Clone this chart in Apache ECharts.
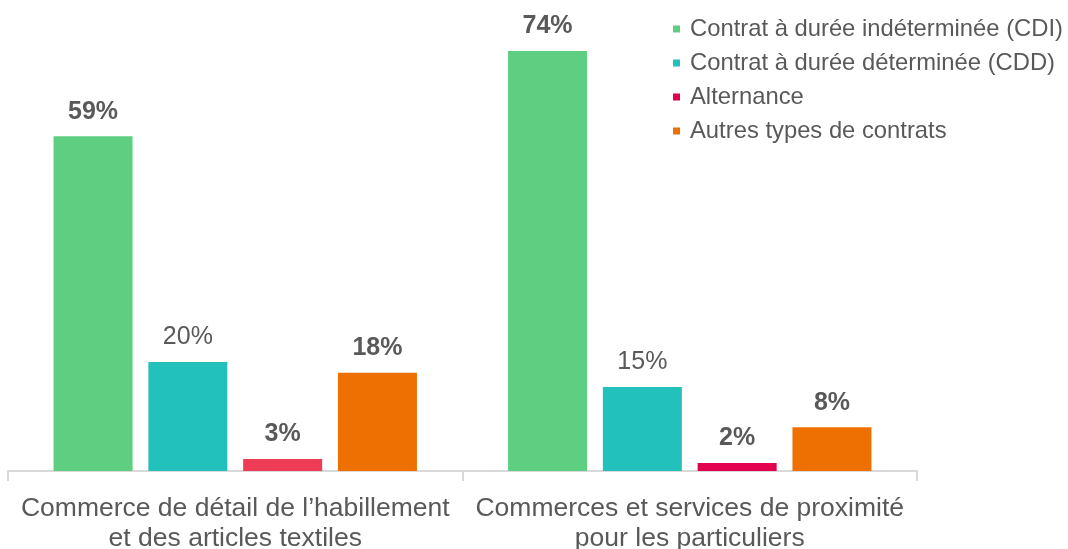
<!DOCTYPE html>
<html>
<head>
<meta charset="utf-8">
<script src="https://cdn.jsdelivr.net/npm/echarts@6/dist/echarts.min.js"></script>
<style>
  html, body { margin: 0; padding: 0; background: #fff; }
  #chart { width: 1068px; height: 549px; }
</style>
</head>
<body>
<div id="chart"></div>
<script>
const categories = [
  'Commerce de détail de l\u2019habillement\net des articles textiles',
  'Commerces et services de proximité\npour les particuliers'
];
const seriesNames = [
  'Contrat à durée indéterminée (CDI)',
  'Contrat à durée déterminée (CDD)',
  'Alternance',
  'Autres types de contrats'
];
// bar heights
const cdi = [59, 74];
const cdd = [19.2, 14.8];
const alternance = [2.1, 1.4];
const autres = [17.3, 7.7];
// printed labels
const cdiLabels = ['59%', '74%'];
const cddLabels = ['20%', '15%'];
const alternanceLabels = ['3%', '2%'];
const autresLabels = ['18%', '8%'];
const colors = ['#5ecf80', '#22c1bb', '#e2004f', '#ed7000'];

const chart = echarts.init(document.getElementById('chart'));
const textColor = '#595959';
const font = 'Liberation Sans, Arial, sans-serif';

function makeSeries(name, values, labels, color, bold) {
  return {
    name: name,
    type: 'bar',
    data: values,
    barWidth: 79,
    barGap: '20%',
    itemStyle: { color: color },
    label: {
      show: true,
      position: 'top',
      distance: 12,
      color: textColor,
      fontFamily: font,
      fontSize: 25,
      fontWeight: bold ? 'bold' : 'normal',
      formatter: p => labels[p.dataIndex]
    }
  };
}

const altData = alternance.map((v, i) => i === 0 ? { value: v, itemStyle: { color: '#ee3b56' } } : v);

const option = {
  animation: false,
  grid: { left: 8, right: 151, top: 51, bottom: 78, outerBoundsMode: 'none' },
  legend: {
    orient: 'vertical',
    left: 668,
    top: 12,
    itemWidth: 7,
    itemHeight: 7,
    itemGap: 10,
    icon: 'rect',
    textStyle: { color: textColor, fontFamily: font, fontSize: 23.8, padding: [0, 0, 0, 5] },
    data: seriesNames
  },
  xAxis: {
    type: 'category',
    data: categories,
    axisLine: { lineStyle: { color: '#d9d9d9', width: 2 } },
    axisTick: { show: true, interval: 0, length: 10, lineStyle: { color: '#d9d9d9', width: 2 } },
    axisLabel: {
      interval: 0,
      color: textColor,
      fontFamily: font,
      fontSize: 26.5,
      lineHeight: 30,
      margin: 23
    }
  },
  yAxis: {
    type: 'value',
    min: 0,
    max: 74,
    show: false,
    splitLine: { show: false }
  },
  series: [
    makeSeries(seriesNames[0], cdi, cdiLabels, colors[0], true),
    makeSeries(seriesNames[1], cdd, cddLabels, colors[1], false),
    makeSeries(seriesNames[2], altData, alternanceLabels, colors[2], true),
    makeSeries(seriesNames[3], autres, autresLabels, colors[3], true)
  ]
};
chart.setOption(option);
</script>
</body>
</html>
